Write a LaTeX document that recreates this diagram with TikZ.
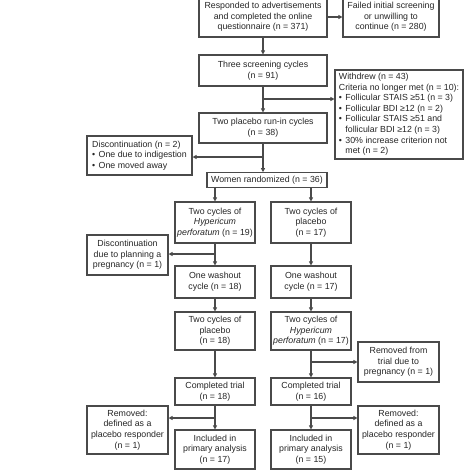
\documentclass[tikz,border=0pt]{standalone}
\usepackage{fontspec}
\setmainfont{Liberation Sans}
\usetikzlibrary{arrows.meta}
\definecolor{ln}{HTML}{4A4A4A}
\definecolor{tx}{HTML}{262626}
\begin{document}
\begin{tikzpicture}[x=1pt,y=-1pt,
  box/.style={draw=ln, line width=1.1pt, fill=white, text=tx, inner sep=0pt, align=center,
    font=\fontsize{8.8}{10.6}\selectfont},
  arr/.style={draw=ln, line width=1.1pt, -{Triangle[length=4pt,width=4pt]}}]
\useasboundingbox (0,0) rectangle (474,474);
\fill[white] (0,0) rectangle (474,474);
\node[box, minimum width=128pt, minimum height=40pt] (resp) at (263,17)
  {Responded to advertisements\\and completed the online\\questionnaire (n = 371)};
\node[box, minimum width=96pt, minimum height=40pt] (fail) at (391,17)
  {Failed initial screening\\or unwilling to\\continue (n = 280)};
\node[box, minimum width=128pt, minimum height=31pt] (screen) at (263,70.5)
  {Three screening cycles\\(n = 91)};
\node[box, minimum width=128pt, minimum height=89pt] (withdrew) at (399,114.5)
  {\begin{tabular}{@{}l@{}}Withdrew (n = 43)\\
   Criteria no longer met (n = 10):\\
   \makebox[6.5pt][l]{•}Follicular STAIS ≥51 (n = 3)\\
   \makebox[6.5pt][l]{•}Follicular BDI ≥12 (n = 2)\\
   \makebox[6.5pt][l]{•}Follicular STAIS ≥51 and\\
   \hspace*{6.5pt}follicular BDI ≥12 (n = 3)\\
   \makebox[6.5pt][l]{•}30\% increase criterion not\\
   \hspace*{6.5pt}met (n = 2)\end{tabular}};
\node[box, minimum width=128pt, minimum height=30pt] (runin) at (263,128)
  {Two placebo run-in cycles\\(n = 38)};
\node[box, minimum width=105pt, minimum height=39pt] (disc1) at (139.5,155.5)
  {\begin{tabular}{@{}l@{}}Discontinuation (n = 2)\\
   \makebox[6.5pt][l]{•}One due to indigestion\\
   \makebox[6.5pt][l]{•}One moved away\end{tabular}};
\node[box, minimum width=120pt, minimum height=14.5pt] (rand) at (267,180)
  {Women randomized (n = 36)};
\node[box, minimum width=80pt, minimum height=41pt] (L1) at (215,222.5)
  {Two cycles of\\\textit{Hypericum}\\\textit{perforatum} (n = 19)};
\node[box, minimum width=80pt, minimum height=41pt] (R1) at (311,222.5)
  {Two cycles of\\placebo\\(n = 17)};
\node[box, minimum width=81pt, minimum height=40pt] (disc2) at (127.5,255)
  {Discontinuation\\due to planning a\\pregnancy (n = 1)};
\node[box, minimum width=80pt, minimum height=32pt] (L2) at (215,282)
  {One washout\\cycle (n = 18)};
\node[box, minimum width=80pt, minimum height=32pt] (R2) at (311,282)
  {One washout\\cycle (n = 17)};
\node[box, minimum width=80pt, minimum height=38pt] (L3) at (215,331)
  {Two cycles of\\placebo\\(n = 18)};
\node[box, minimum width=80pt, minimum height=38pt] (R3) at (311,331)
  {Two cycles of\\\textit{Hypericum}\\\textit{perforatum} (n = 17)};
\node[box, minimum width=81pt, minimum height=40pt] (remtrial) at (398.5,362)
  {Removed from\\trial due to\\pregnancy (n = 1)};
\node[box, minimum width=80pt, minimum height=27pt] (L4) at (215,391.5)
  {Completed trial\\(n = 18)};
\node[box, minimum width=80pt, minimum height=27pt] (R4) at (311,391.5)
  {Completed trial\\(n = 16)};
\node[box, minimum width=81pt, minimum height=48pt] (remL) at (127.5,430)
  {Removed:\\defined as a\\placebo responder\\(n = 1)};
\node[box, minimum width=81pt, minimum height=48pt] (remR) at (398.5,430)
  {Removed:\\defined as a\\placebo responder\\(n = 1)};
\node[box, minimum width=80pt, minimum height=39pt] (L5) at (215,449.5)
  {Included in\\primary analysis\\(n = 17)};
\node[box, minimum width=80pt, minimum height=39pt] (R5) at (311,449.5)
  {Included in\\primary analysis\\(n = 15)};
% connectors
\draw[arr] (resp.east) -- (fail.west);
\draw[arr] (resp.south) -- (screen.north);
\draw[arr] (screen.south) -- (runin.north);
\coordinate (b1) at (263,99);
\draw[arr] (b1) -- (b1 -| withdrew.west);
\draw[arr] (runin.south) -- (runin.south |- rand.north);
\coordinate (b2) at (263,157);
\draw[arr] (b2) -- (b2 -| disc1.east);
\draw[arr] (L1.north |- rand.south) -- (L1.north);
\draw[arr] (R1.north |- rand.south) -- (R1.north);
\draw[arr] (L1.south) -- (L2.north);
\coordinate (b3) at (215,254);
\draw[arr] (b3) -- (b3 -| disc2.east);
\draw[arr] (R1.south) -- (R2.north);
\draw[arr] (L2.south) -- (L3.north);
\draw[arr] (R2.south) -- (R3.north);
\draw[arr] (L3.south) -- (L4.north);
\draw[arr] (R3.south) -- (R4.north);
\coordinate (b4) at (311,362);
\draw[arr] (b4) -- (b4 -| remtrial.west);
\draw[arr] (L4.south) -- (L5.north);
\draw[arr] (R4.south) -- (R5.north);
\coordinate (b5) at (215,418);
\draw[arr] (b5) -- (b5 -| remL.east);
\coordinate (b6) at (311,418);
\draw[arr] (b6) -- (b6 -| remR.west);
\end{tikzpicture}
\end{document}
